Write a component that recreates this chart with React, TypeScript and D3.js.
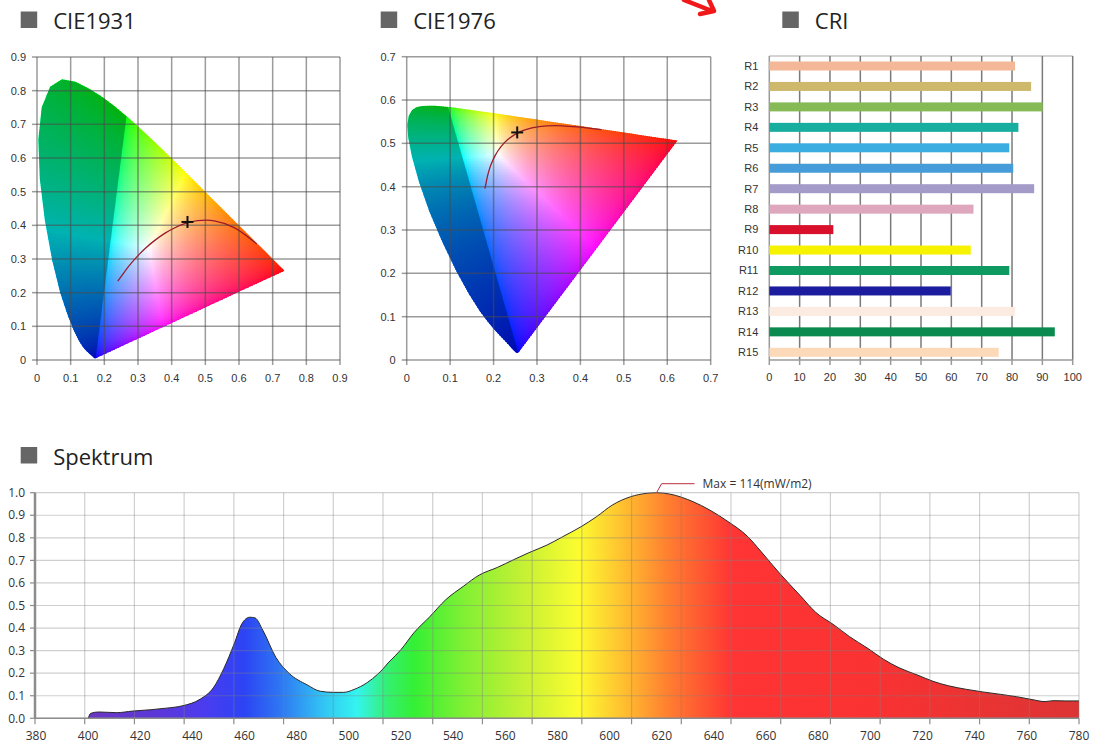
import React, { useMemo } from "react";
import * as d3 from "d3";

// ---------------- DATA ----------------
// CIE 1931 2° spectral locus (chromaticity x, y)
const locusNm = [380,385,390,395,400,405,410,415,420,425,430,435,440,445,450,455,460,465,470,475,480,485,490,495,500,505,510,515,520,525,530,535,540,545,550,555,560,565,570,575,580,585,590,595,600,605,610,615,620,625,630,635,640,645,650,655,660,665,670,675,680,690,700];
const locusX = [0.1741,0.1740,0.1738,0.1736,0.1733,0.1730,0.1726,0.1721,0.1714,0.1703,0.1689,0.1669,0.1644,0.1611,0.1566,0.1510,0.1440,0.1355,0.1241,0.1096,0.0913,0.0687,0.0454,0.0235,0.0082,0.0039,0.0139,0.0389,0.0743,0.1142,0.1547,0.1929,0.2296,0.2658,0.3016,0.3373,0.3731,0.4087,0.4441,0.4788,0.5125,0.5448,0.5752,0.6029,0.6270,0.6482,0.6658,0.6801,0.6915,0.7006,0.7079,0.7140,0.7190,0.7230,0.7260,0.7283,0.7300,0.7311,0.7320,0.7327,0.7334,0.7344,0.7347];
const locusY = [0.0050,0.0050,0.0049,0.0049,0.0048,0.0048,0.0048,0.0048,0.0051,0.0058,0.0069,0.0086,0.0109,0.0138,0.0177,0.0227,0.0297,0.0399,0.0578,0.0868,0.1327,0.2007,0.2950,0.4127,0.5384,0.6548,0.7502,0.8120,0.8338,0.8262,0.8059,0.7816,0.7543,0.7243,0.6923,0.6589,0.6245,0.5896,0.5547,0.5202,0.4866,0.4544,0.4242,0.3965,0.3725,0.3514,0.3340,0.3197,0.3083,0.2993,0.2920,0.2859,0.2809,0.2770,0.2740,0.2717,0.2700,0.2689,0.2680,0.2673,0.2666,0.2656,0.2653];

// Planckian locus (∞ → 1000 K) in CIE 1931 x, y
const planckX = [0.2399,0.2529,0.2637,0.2807,0.2952,0.3064,0.3221,0.3451,0.3805,0.4053,0.4369,0.4770,0.5267,0.5857,0.6528];
const planckY = [0.2342,0.2521,0.2671,0.2883,0.3048,0.3166,0.3318,0.3516,0.3768,0.3907,0.4041,0.4137,0.4133,0.3931,0.3444];

// measured chromaticity point
const pointX = 0.447;
const pointY = 0.41;

const ticks1931 = [0,0.1,0.2,0.3,0.4,0.5,0.6,0.7,0.8,0.9];
const ticks1976 = [0,0.1,0.2,0.3,0.4,0.5,0.6,0.7];

// CRI
const criLabels = ["R1","R2","R3","R4","R5","R6","R7","R8","R9","R10","R11","R12","R13","R14","R15"];
const criValues = [81,86.3,90.1,82.1,79.1,80.4,87.3,67.3,21.1,66.4,79.1,59.8,81,94.1,75.6];
const criColors = ["#f4b898","#cdb86c","#86ba56","#17ae9f","#3cade0","#469cd8","#a49bc9","#dea7be","#d9102c","#f6f200","#0f9a62","#1c1c9e","#fcebe0","#0a8a4e","#fcd9b8"];
const criTicks = [0,10,20,30,40,50,60,70,80,90,100];

// Spectrum (relative)
const spectrumNm = [400,401,404,411,417,424,430,436,443,448,452,456,459,462,464,467,472,477,484,489,494,498,502,507,511,513,515,518,520,525,531,537,544,550,557,563,569,576,582,589,595,601,608,614,618,623,632,645,653,658,665,673,679,686,692,699,705,711,718,724,730,737,743,750,756,762,767,770,775,780];
const spectrumValue = [0,0.022,0.028,0.025,0.032,0.038,0.045,0.055,0.085,0.135,0.22,0.33,0.42,0.448,0.445,0.39,0.27,0.2,0.148,0.12,0.115,0.115,0.128,0.158,0.195,0.218,0.245,0.28,0.305,0.38,0.45,0.524,0.586,0.635,0.669,0.702,0.734,0.768,0.805,0.849,0.894,0.945,0.982,0.997,1.0,0.994,0.96,0.875,0.805,0.74,0.645,0.545,0.47,0.414,0.362,0.31,0.262,0.224,0.192,0.164,0.144,0.128,0.117,0.106,0.096,0.083,0.074,0.078,0.077,0.077];
const spectrumXTicks = [380,400,420,440,460,480,500,520,540,560,580,600,620,640,660,680,700,720,740,760,780];
const spectrumYTicks = [0,0.1,0.2,0.3,0.4,0.5,0.6,0.7,0.8,0.9,1.0];
const spectrumMaxText = "Max = 114(mW/m2)";
const spectrumStopNm = [400,430,445,460,475,490,503,515,525,545,565,588,605,622,647,700,780];
const spectrumStopColor = ["#6a36c4","#5a38dc","#4a3cf0","#2c44f4","#2e7cf2","#32c4f4","#34f4f0","#34f070","#34f034","#84f034","#c0f034","#fcfc30","#ffc030","#ff8030","#ff3434","#fa3232","#dc3434"];

// ---------------- HELPERS ----------------
type P = [number, number];
const TITLE_FONT = "'Open Sans', 'Noto Sans', sans-serif";
const TICK_FONT = "'Liberation Sans', Arial, sans-serif";
const SPEC_FONT = "'Open Sans', 'Noto Sans', sans-serif";

const xyToUv = ([x, y]: P): P => { const d = -2 * x + 12 * y + 3; return [4 * x / d, 9 * y / d]; };
const uvToXy = ([u, v]: P): P => { const d = 6 * u - 16 * v + 12; return [9 * u / d, 4 * v / d]; };
const ident = (p: P): P => p;

const xyz = (x: number, y: number) => [x / y, 1, (1 - x - y) / y];
function inv3(m: number[][]) {
  const [a, b, c] = m[0], [d, e, f] = m[1], [g, h, i] = m[2];
  const A = e * i - f * h, B = -(d * i - f * g), C = d * h - e * g;
  const det = a * A + b * B + c * C;
  return [
    [A / det, -(b * i - c * h) / det, (b * f - c * e) / det],
    [B / det, (a * i - c * g) / det, -(a * f - c * d) / det],
    [C / det, -(a * h - b * g) / det, (a * e - b * d) / det],
  ];
}
const mv = (m: number[][], v: number[]) => m.map(r => r[0] * v[0] + r[1] * v[1] + r[2] * v[2]);

const iRed = locusNm.indexOf(700), iGreen = locusNm.indexOf(545), iBlue = locusNm.indexOf(380);
const primIdx = [iRed, iGreen, iBlue];
const Mprim = [0, 1, 2].map(r => primIdx.map(k => xyz(locusX[k], locusY[k])[r]));
const Sw = mv(inv3(Mprim), xyz(1 / 3, 1 / 3));
const Minv = inv3(Mprim.map(row => row.map((v, j) => v * Sw[j])));

function chromaColor(x: number, y: number) {
  const yy = Math.max(y, 1e-3);
  let c = mv(Minv, xyz(x, yy));
  c = c.map(v => Math.max(0, v));
  const m = Math.max(c[0], c[1], c[2]) || 1;
  const [r, g, b] = c.map(v => Math.round(255 * Math.pow(v / m, 1 / 1.8)));
  return `rgb(${r},${g},${b})`;
}

function Title({ x, y, text }: { x: number; y: number; text: string }) {
  return (
    <g>
      <rect x={x} y={y - 17.5} width={16.5} height={16.5} fill="#666" />
      <text x={x + 32.5} y={y} fontSize={22} fontFamily={TITLE_FONT} fill="#222">{text}</text>
    </g>
  );
}

const fmtCie = (d: number) => (d === 0 ? "0" : d.toFixed(1));

function ChromaPanel(props: {
  id: string; title: string; titleX: number; ticks: number[];
  x0: number; x1: number; yb: number; yt: number;
  toPlot: (p: P) => P; fromPlot: (p: P) => P;
}) {
  const { id, title, titleX, ticks, x0, x1, yb, yt, toPlot, fromPlot } = props;
  const dmax = ticks[ticks.length - 1];
  const xs = d3.scaleLinear([0, dmax], [x0, x1]);
  const ys = d3.scaleLinear([0, dmax], [yb, yt]);
  const poly: P[] = locusX.map((x, i) => { const p = toPlot([x, locusY[i]]); return [xs(p[0]), ys(p[1])] as P; });
  const cells = useMemo(() => {
    const step = 2;
    const ex = d3.extent(poly, p => p[0]) as [number, number];
    const ey = d3.extent(poly, p => p[1]) as [number, number];
    const out: { x: number; y: number; f: string }[] = [];
    for (let px = Math.floor(ex[0]) - 2; px < ex[1] + 2; px += step) {
      for (let py = Math.floor(ey[0]) - 2; py < ey[1] + 2; py += step) {
        if (!(d3.polygonContains(poly, [px, py]) || d3.polygonContains(poly, [px + step, py]) ||
          d3.polygonContains(poly, [px, py + step]) || d3.polygonContains(poly, [px + step, py + step]))) continue;
        const d = fromPlot([xs.invert(px + step / 2), Math.max(ys.invert(py + step / 2), 0.002)]);
        out.push({ x: px, y: py, f: chromaColor(d[0], d[1]) });
      }
    }
    return out;
  }, []);
  const polyPath = "M" + poly.map(p => p.join(",")).join("L") + "Z";
  // region outside the bright gamut triangle (left of the 380nm–545nm chord)
  const shadePath = "M" + poly.slice(iBlue, iGreen + 1).map(p => p.join(",")).join("L") + "Z";
  const planckPts: P[] = planckX.map((x, i) => { const p = toPlot([x, planckY[i]]); return [xs(p[0]), ys(p[1])] as P; });
  const planckPath = d3.line().curve(d3.curveCatmullRom)(planckPts) || "";
  const cp = toPlot([pointX, pointY]);
  const cx = xs(cp[0]), cy = ys(cp[1]);
  return (
    <g>
      <Title x={titleX} y={29} text={title} />
      <defs>
        <clipPath id={id + "clip"}><path d={polyPath} /></clipPath>
      </defs>
      <g clipPath={`url(#${id}clip)`}>
        <g shapeRendering="crispEdges">
          {cells.map((c, i) => <rect key={i} x={c.x} y={c.y} width={2.6} height={2.6} fill={c.f} />)}
        </g>
        <path d={shadePath} fill="#000" fillOpacity={0.3} />
      </g>
      <g stroke="#4a4a4a" strokeOpacity={0.55} strokeWidth={1.5}>
        {ticks.map(t => <line key={"v" + t} x1={xs(t)} x2={xs(t)} y1={ys(0)} y2={ys(dmax)} />)}
        {ticks.map(t => <line key={"h" + t} x1={xs(0)} x2={xs(dmax)} y1={ys(t)} y2={ys(t)} />)}
        {ticks.map(t => <line key={"tv" + t} x1={xs(t)} x2={xs(t)} y1={ys(0)} y2={ys(0) + 5} />)}
        {ticks.map(t => <line key={"th" + t} x1={xs(0) - 5} x2={xs(0)} y1={ys(t)} y2={ys(t)} />)}
      </g>
      <path d={planckPath} fill="none" stroke="#9a1c2c" strokeWidth={1.3} />
      <g stroke="#111" strokeWidth={2}>
        <line x1={cx - 6} x2={cx + 6} y1={cy} y2={cy} />
        <line x1={cx} x2={cx} y1={cy - 6} y2={cy + 6} />
      </g>
      <g fontFamily={TICK_FONT} fontSize={11} fill="#333">
        {ticks.map(t => <text key={"xl" + t} x={xs(t)} y={382} textAnchor="middle">{fmtCie(t)}</text>)}
        {ticks.map(t => <text key={"yl" + t} x={xs(0) - 11} y={ys(t)} dy="0.35em" textAnchor="end">{fmtCie(t)}</text>)}
      </g>
    </g>
  );
}

function CriPanel() {
  const xs = d3.scaleLinear([0, 100], [769.3, 1072.7]);
  const ys = d3.scalePoint(criLabels, [66, 352.3]);
  const top = 56, bottom = 360;
  return (
    <g>
      <Title x={782.3} y={29} text="CRI" />
      <line x1={xs(0)} x2={xs(100)} y1={top} y2={top} stroke="#c4c4c4" strokeWidth={1.5} />
      <g stroke="#7a7a7a" strokeWidth={1.5}>
        {criTicks.filter(t => t > 0).map(t => <line key={t} x1={xs(t)} x2={xs(t)} y1={top} y2={bottom} />)}
      </g>
      <g stroke="#9a9a9a" strokeWidth={1.5}>
        <line x1={xs(0)} x2={xs(0)} y1={top} y2={bottom} />
        <line x1={xs(0)} x2={xs(100)} y1={bottom} y2={bottom} />
        {criTicks.map(t => <line key={"t" + t} x1={xs(t)} x2={xs(t)} y1={bottom} y2={bottom + 5} />)}
      </g>
      {criLabels.map((l, i) => (
        <rect key={l} x={xs(0)} y={(ys(l) as number) - 4.5} width={xs(criValues[i]) - xs(0)} height={9} fill={criColors[i]} />
      ))}
      <g fontFamily={TICK_FONT} fontSize={11} fill="#333">
        {criLabels.map(l => <text key={l} x={xs(0) - 11} y={ys(l) as number} dy="0.35em" textAnchor="end">{l}</text>)}
        {criTicks.map(t => <text key={"x" + t} x={xs(t)} y={381} textAnchor="middle">{t}</text>)}
      </g>
    </g>
  );
}

function SpectrumPanel() {
  const left = 35, right = 1079, top = 492.7, bottom = 718.3;
  const xs = d3.scaleLinear([380, 780], [36, 1079]);
  const ys = d3.scaleLinear([0, 1], [bottom, top]);
  const grid = d3.scaleLinear([0, 21], [left, right]);
  const gridIdx = d3.range(22);
  const data = spectrumNm.map((n, i) => [n, spectrumValue[i]] as P);
  const area = d3.area<P>().x(d => xs(d[0])).y0(ys(0)).y1(d => ys(d[1])).curve(d3.curveMonotoneX)(data) || "";
  const line = d3.line<P>().x(d => xs(d[0])).y(d => ys(d[1])).curve(d3.curveMonotoneX)(data) || "";
  const imax = d3.maxIndex(spectrumValue);
  const mx = xs(spectrumNm[imax]), my = ys(spectrumValue[imax]);
  return (
    <g>
      <Title x={20.7} y={464.5} text="Spektrum" />
      <defs>
        <linearGradient id="specGrad" gradientUnits="userSpaceOnUse" x1={xs(380)} x2={xs(780)} y1={0} y2={0}>
          {spectrumStopNm.map((n, i) => <stop key={n} offset={(n - 380) / 400} stopColor={spectrumStopColor[i]} />)}
        </linearGradient>
      </defs>
      <path d={area} fill="url(#specGrad)" />
      <path d={line} fill="none" stroke="#2a2a2a" strokeWidth={1} />
      <g stroke="#808080" strokeOpacity={0.38} strokeWidth={1.2}>
        {gridIdx.map(i => <line key={"v" + i} x1={grid(i)} x2={grid(i)} y1={top} y2={bottom} />)}
        {spectrumYTicks.map(t => <line key={"h" + t} x1={left} x2={right} y1={ys(t)} y2={ys(t)} />)}
      </g>
      <g stroke="#8c8c8c">
        <line x1={left} x2={left} y1={top} y2={bottom} strokeWidth={2.5} />
        <line x1={left} x2={right} y1={bottom} y2={bottom} strokeWidth={1.6} />
        {gridIdx.map(i => <line key={"bt" + i} x1={grid(i)} x2={grid(i)} y1={bottom} y2={bottom + 6} strokeWidth={1.2} />)}
        {spectrumYTicks.map(t => <line key={"lt" + t} x1={left - 5} x2={left} y1={ys(t)} y2={ys(t)} strokeWidth={1.2} />)}
      </g>
      <path d={`M${mx},${my} L${mx + 5},${my - 9} L${mx + 38},${my - 9}`} fill="none" stroke="#b8303c" strokeWidth={1} />
      <text x={mx + 46} y={my - 9} dy="0.35em" fontFamily={SPEC_FONT} fontSize={12} fill="#333">{spectrumMaxText}</text>
      <g fontFamily={SPEC_FONT} fontSize={12} fill="#333">
        {spectrumYTicks.map(t => <text key={"y" + t} x={25} y={ys(t)} dy="0.35em" textAnchor="end">{t.toFixed(1)}</text>)}
        {spectrumXTicks.map(t => <text key={"x" + t} x={xs(t)} y={740} textAnchor="middle">{t}</text>)}
      </g>
    </g>
  );
}

export default function App() {
  return (
    <svg width={1099} height={744} viewBox="0 0 1099 744"
      style={{ position: "absolute", left: 0, top: 0, display: "block", background: "#fff" }}>
      <rect x={0} y={0} width={1099} height={744} fill="#fff" />
      <ChromaPanel id="c1931" title="CIE1931" titleX={20.7} ticks={ticks1931}
        x0={37} x1={340} yb={360} yt={57} toPlot={ident} fromPlot={ident} />
      <ChromaPanel id="c1976" title="CIE1976" titleX={380.7} ticks={ticks1976}
        x0={406.7} x1={710.7} yb={360} yt={56.7} toPlot={xyToUv} fromPlot={uvToXy} />
      <CriPanel />
      <SpectrumPanel />
      <path d="M684,0 L712,11 M700,14 L714,11 L709,0" fill="none" stroke="#f01818" strokeWidth={4.5} strokeLinecap="round" strokeLinejoin="round" />
    </svg>
  );
}
